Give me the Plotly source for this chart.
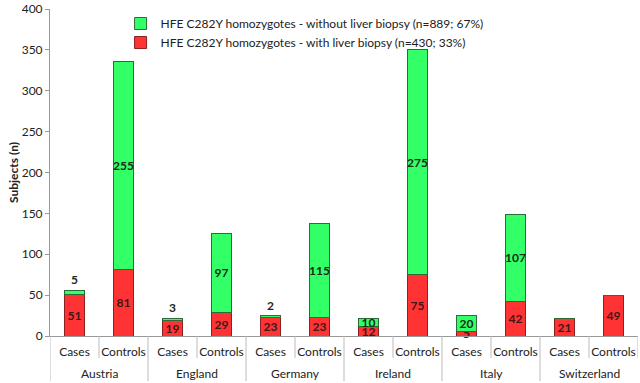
import plotly.graph_objects as go

countries = ["Austria", "England", "Germany", "Ireland", "Italy", "Switzerland"]
groups = ["Cases", "Controls"]
with_biopsy = [51, 81, 19, 29, 23, 23, 12, 75, 5, 42, 21, 49]
without_biopsy = [5, 255, 3, 97, 2, 115, 10, 275, 20, 107, 0, 0]
y_ticks = [0, 50, 100, 150, 200, 250, 300, 350, 400]

font_family = "Lato, 'Open Sans', sans-serif"

n_bars = len(countries) * len(groups)
x_pos = list(range(n_bars))
x_labels = groups * len(countries)

green_text = [str(v) if v > 0 else "" for v in without_biopsy]
green_pos = ["outside" if 0 < v < 8 else "inside" for v in without_biopsy]

fig = go.Figure()
fig.add_trace(go.Bar(
    x=x_pos, y=with_biopsy,
    name="HFE C282Y homozygotes - with liver biopsy (n=430; 33%)",
    marker=dict(color="#FF3333", line=dict(color="#8B2222", width=1)),
    text=[str(v) for v in with_biopsy], textposition="inside",
    insidetextanchor="middle", textangle=0,
    textfont=dict(family=font_family, size=12, color="#3a1a1a", weight="bold"),
    cliponaxis=False,
))
fig.add_trace(go.Bar(
    x=x_pos, y=without_biopsy,
    name="HFE C282Y homozygotes - without liver biopsy (n=889; 67%)",
    marker=dict(color="#33FF66", line=dict(color="#2E6B3A", width=1)),
    text=green_text, textposition=green_pos,
    insidetextanchor="middle", textangle=0,
    textfont=dict(family=font_family, size=12, color="#1a2a1a", weight="bold"),
    cliponaxis=False,
))

plot_h = 383 - 9 - 47
short_len = 22 / plot_h
long_len = 45 / plot_h

shapes = []
for i in range(n_bars + 1):
    b = i - 0.5
    length = long_len if i % 2 == 0 and i < n_bars else short_len
    shapes.append(dict(type="line", xref="x", yref="paper", x0=b, x1=b,
                       y0=0, y1=-length, line=dict(color="#bbb", width=1)))

annotations = []
for j, c in enumerate(countries):
    annotations.append(dict(text=c, x=2 * j + 0.5, xref="x", y=0, yref="paper",
                            yshift=-37, yanchor="middle", showarrow=False,
                            font=dict(size=12, color="#222")))

fig.update_layout(
    width=640, height=383,
    barmode="stack", bargap=0.59,
    plot_bgcolor="white", paper_bgcolor="white",
    margin=dict(l=50, r=2, t=9, b=47, autoexpand=False),
    font=dict(family=font_family, size=12, color="#222"),
    uniformtext=dict(minsize=12, mode="show"),
    showlegend=True,
    legend=dict(x=0.12, y=1.0, xanchor="left", yanchor="top",
                traceorder="reversed", bgcolor="rgba(0,0,0,0)",
                font=dict(size=12, color="#222"),
                itemwidth=30, tracegroupgap=0),
    yaxis=dict(range=[0, 400], tickvals=y_ticks, showgrid=False,
               showline=True, linecolor="#999", ticks="outside", ticklen=4,
               tickcolor="#999", tickfont=dict(size=12), automargin=False,
               title=dict(text="<b>Subjects (n)</b>", font=dict(size=12), standoff=0),
               zeroline=False),
    xaxis=dict(range=[-0.5, n_bars - 0.5], tickvals=x_pos, ticktext=x_labels,
               showgrid=False, showline=True, linecolor="#999", ticks="",
               tickangle=0, automargin=False, ticklabelstandoff=5,
               zeroline=False, tickfont=dict(size=12, color="#222")),
    shapes=shapes,
    annotations=annotations,
)

fig.write_html("out.html", config={"displayModeBar": False},
               post_script="document.body.style.margin='0px';")
